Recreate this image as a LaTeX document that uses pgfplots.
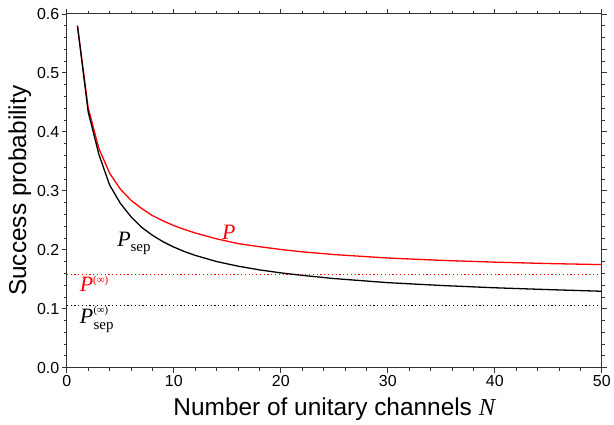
\documentclass[border=0pt]{standalone}
\usepackage{pgfplots}
\pgfplotsset{compat=1.18}
\usepackage{fontspec}
\setmainfont{Liberation Sans}
\newfontfamily\tnr{Liberation Serif}

\pgfplotstableread{
N P
1 0.580
2 0.441
3 0.372
4 0.330
5 0.303
6 0.284
7 0.270
8 0.258
9 0.249
10 0.241
11 0.2345
12 0.2285
14 0.2185
16 0.2105
18 0.2052
20 0.2005
22 0.1965
25 0.1918
30 0.1860
35 0.1820
40 0.1790
45 0.1766
50 0.1748
}\redtab

\pgfplotstableread{
N P
1 0.580
2 0.434
3 0.362
4 0.310
5 0.279
6 0.256
7 0.238
8 0.2246
9 0.2136
10 0.2046
11 0.1969
12 0.1905
14 0.1800
16 0.1722
18 0.1659
20 0.1608
22 0.1566
25 0.1511
30 0.1442
35 0.1394
40 0.1355
45 0.1324
50 0.1296
}\blacktab

\begin{document}
\begin{tikzpicture}
\begin{axis}[
  name=ax,
  scale only axis,
  width=537pt, height=355pt,
  xmin=0, xmax=50, ymin=0, ymax=0.6,
  xtick={0,10,20,30,40,50},
  ytick={0,0.1,0.2,0.3,0.4,0.5,0.6},
  minor x tick num=4,
  minor y tick num=4,
  tick align=outside,
  major tick length=5pt,
  minor tick length=3pt,
  axis line style={black!80, line width=0.9pt},
  every tick/.style={black!80, line width=0.8pt},
  tick label style={font=\fontsize{16}{18}\selectfont},
  xticklabel style={yshift=1pt},
  yticklabel style={xshift=1pt},
  /pgf/number format/assume math mode=true,
  yticklabel style={/pgf/number format/.cd, fixed, fixed zerofill, precision=1},
  xlabel={Number of unitary channels {\tnr\itshape N}},
  ylabel={Success probability},
  label style={font=\fontsize{24.5}{26}\selectfont},
  xlabel style={yshift=-5pt},
  ylabel style={yshift=-1pt},
]
\addplot[red, line width=1.3pt, dash pattern=on 1.2pt off 2.6pt] coordinates {(0,0.1585) (50,0.1585)};
\addplot[black, line width=1.3pt, dash pattern=on 1.2pt off 2.6pt] coordinates {(0,0.1053) (50,0.1053)};
\addplot[red, line width=1.3pt] table[x=N, y=P] {\redtab};
\addplot[black, line width=1.3pt] table[x=N, y=P] {\blacktab};

\node[anchor=base west, red, inner sep=0pt, font=\tnr\fontsize{22}{22}\selectfont\itshape] at (axis cs:14.5,0.218) {P};
\node[anchor=base west, black, inner sep=0pt, font=\tnr\fontsize{22}{22}\selectfont] at (axis cs:4.7,0.206) {\textit{P}\raisebox{-5.5pt}{\fontsize{15}{15}\selectfont sep}};
\node[anchor=base west, red, inner sep=0pt, font=\tnr\fontsize{22}{22}\selectfont] at (axis cs:1.2,0.1284) {\textit{P}\raisebox{8.5pt}{\fontsize{11}{11}\selectfont(∞)}};
\node[anchor=base west, black, inner sep=0pt, font=\tnr\fontsize{22}{22}\selectfont\itshape] (ps) at (axis cs:1.2,0.0744) {P};
\node[anchor=base west, black, inner sep=0pt, font=\tnr\fontsize{10.5}{10.5}\selectfont] at ([yshift=10pt]ps.base east) {(∞)};
\node[anchor=base west, black, inner sep=0pt, font=\tnr\fontsize{15}{15}\selectfont] at ([yshift=-5.5pt]ps.base east) {sep};
\end{axis}
\path (ax.south west) ++(-67pt,-56pt) coordinate (bl);
\path (ax.north east) ++(10pt,14pt) coordinate (tr);
\path (bl) rectangle (tr);
\end{tikzpicture}
\end{document}
